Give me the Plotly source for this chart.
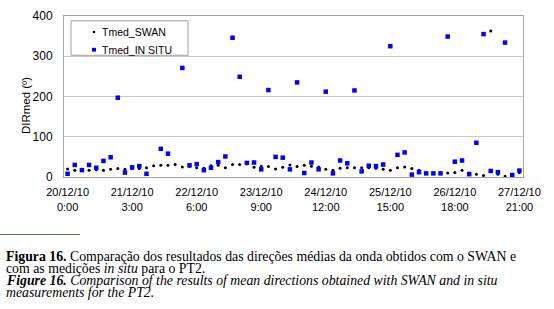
import plotly.graph_objects as go
import pandas as pd

# ---- data ----
times = pd.date_range("2010-12-20 00:00", periods=64, freq="3h")
categories = [f"{t:%d/%m/%y} {t.hour}:00" for t in times]

tmed_swan = [20, 17, 16, 17, 18, 17, 19, 21, 19, 21, 21, 23, 28, 29, 29, 31,
             25, 27, 23, 22, 28, 29, 23, 31, 31, 33, 24, 27, 26, 20, 24, 30,
             26, 29, 27, 25, 19, 17, 22, 23, 23, 23, 23, 22, 19, 17, 23, 25,
             21, 17, 9, 9, 9, 10, 11, 17, 10, 7, 4, 363, 7, 2, 4, 11]

tmed_insitu = [8, 30, 17, 30, 23, 40, 49, 197, 11, 24, 27, 8, None, 70, 58, None,
               271, 29, 32, 17, 23, 37, 51, 346, 249, 35, 36, 19, 216, 50, 48, 19,
               235, 10, 36, 19, 212, 9, 41, 34, 215, 14, 28, 27, 31, 325, 55, 61,
               6, 12, 9, 9, 9, 349, 38, 41, 7, 85, 355, 15, 12, 334, 5, 16]

series_names = ["Tmed_SWAN", "Tmed_IN SITU"]

tick_cats = categories[::9]
tick_labels = ["20/12/10<br>0:00", "21/12/10<br>3:00", "22/12/10<br>6:00",
               "23/12/10<br>9:00", "24/12/10<br>12:00", "25/12/10<br>15:00",
               "26/12/10<br>18:00", "27/12/10<br>21:00"]
y_ticks = [0, 100, 200, 300, 400]

caption_lines = [
    "<b>Figura 16.</b> Comparação dos resultados das direções médias da onda obtidos com o SWAN e",
    "com as medições <i>in situ</i> para o PT2.",
    "<b><i>Figure 16.</i></b><i> Comparison of the results of mean directions obtained with SWAN and in situ</i>",
    "<i>measurements for the PT2.</i>",
]

# ---- figure ----
L, R, T, B = 64, 31, 9, 132
W, H = 554, 309
pw = W - L - R
ph = H - T - B

def px_x(x):
    return (x - L) / pw

def px_y(y):
    return (H - B - y) / ph

font_sans = "Liberation Sans, Arial, sans-serif"
font_serif = "Liberation Serif, Times New Roman, serif"

swan_color = "black"
insitu_color = "#0000ff"

fig = go.Figure()
fig.add_trace(go.Scatter(
    x=categories, y=tmed_swan, mode="markers", name=series_names[0],
    marker=dict(symbol="circle", size=3, color=swan_color), showlegend=False,
))
fig.add_trace(go.Scatter(
    x=categories, y=tmed_insitu, mode="markers", name=series_names[1],
    marker=dict(symbol="square", size=4.5, color=insitu_color), showlegend=False,
))

fig.update_layout(
    width=W, height=H,
    margin=dict(l=L, r=R, t=T, b=B),
    paper_bgcolor="white", plot_bgcolor="white",
    font=dict(family=font_sans, size=11, color="black"),
    showlegend=False,
)

fig.update_xaxes(
    type="category",
    range=[-0.5, len(categories) - 0.5],
    tickvals=tick_cats, ticktext=tick_labels,
    showgrid=False, zeroline=False,
    showline=True, mirror=True, linecolor="#a6a6a6", linewidth=1,
    ticks="", ticklabelstandoff=5,
    tickfont=dict(size=11, family=font_sans, color="black"),
)
fig.update_yaxes(
    range=[0, 400], tickvals=y_ticks,
    showgrid=True, gridcolor="#c8c8c8", gridwidth=1,
    zeroline=False,
    showline=True, mirror=True, linecolor="#a6a6a6", linewidth=1,
    ticks="", ticklabelstandoff=8,
    tickfont=dict(size=12, family=font_sans, color="black"),
)

# ---- legend (box, keys, labels) ----
fig.add_shape(type="rect", xref="paper", yref="paper", layer="above",
              x0=px_x(71), x1=px_x(188), y0=px_y(14), y1=px_y(50),
              fillcolor="white", line=dict(color="#a0a0a0", width=1))
leg_y = [25.7, 44.2]
# key for SWAN: small dot
fig.add_shape(type="circle", xref="paper", yref="paper", layer="above",
              x0=px_x(92.7), x1=px_x(95.3), y0=px_y(leg_y[0] - 1.3), y1=px_y(leg_y[0] + 1.3),
              fillcolor=swan_color, line=dict(width=0))
# key for IN SITU: small square
fig.add_shape(type="rect", xref="paper", yref="paper", layer="above",
              x0=px_x(92), x1=px_x(96), y0=px_y(leg_y[1] - 2), y1=px_y(leg_y[1] + 2),
              fillcolor=insitu_color, line=dict(width=0))
for name, yy in zip(series_names, leg_y):
    fig.add_annotation(
        text=name, xref="paper", yref="paper",
        x=px_x(100.5), y=px_y(yy), xanchor="left", yanchor="middle",
        showarrow=False, borderpad=0,
        font=dict(family=font_sans, size=10.5, color="black"),
    )

# y-axis title
fig.add_annotation(
    text="DIRmed (º)", textangle=-90, xref="paper", yref="paper",
    x=px_x(18), y=px_y(103), showarrow=False,
    font=dict(family=font_sans, size=11.5, color="black"),
)

# separator line
fig.add_shape(type="line", xref="paper", yref="paper",
              x0=px_x(0), x1=px_x(80), y0=px_y(237), y1=px_y(237),
              line=dict(color="#4f7f4f", width=1))

# caption
cap_y = [260, 272, 285, 297]
for txt, yy in zip(caption_lines, cap_y):
    fig.add_annotation(
        text=txt, xref="paper", yref="paper",
        x=px_x(5), y=px_y(yy), xanchor="left", yanchor="middle",
        showarrow=False, align="left", borderpad=0,
        font=dict(family=font_serif, size=13.8, color="black"),
    )

fig.write_html("out.html", config={"displayModeBar": False},
               post_script="document.body.style.margin='0px';")
